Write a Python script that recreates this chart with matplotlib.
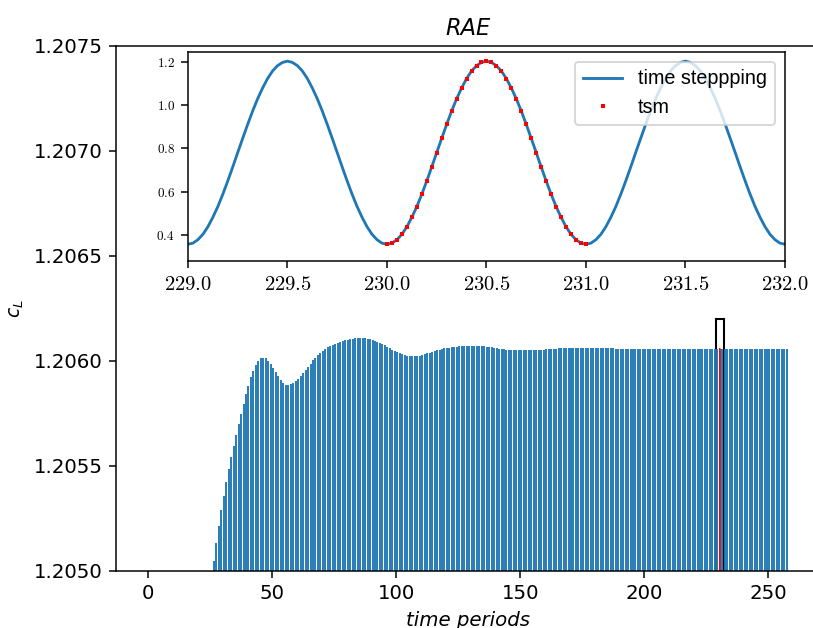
import numpy as np
import matplotlib.pyplot as plt
from matplotlib.patches import Rectangle

# peak value of c_L in each time period (peaks below 1.2050 are left out)
first_period = 26
peaks = [1.205049, 1.205135, 1.205214, 1.205290, 1.205359, 1.205424, 1.205484,
         1.205541, 1.205595, 1.205648, 1.205698, 1.205748, 1.205795, 1.205843,
         1.205883, 1.205922, 1.205954, 1.205981, 1.206000, 1.206013, 1.206016,
         1.206013, 1.206002, 1.205986, 1.205967, 1.205948, 1.205927, 1.205908,
         1.205894, 1.205886, 1.205884, 1.205889, 1.205897, 1.205906, 1.205916,
         1.205929, 1.205944]
peaks += [1.205957, 1.205973, 1.205987, 1.206003, 1.206016, 1.206029, 1.206038,
          1.206048, 1.206056, 1.206065, 1.206073, 1.206078, 1.206083, 1.206087,
          1.206092, 1.206095, 1.206098, 1.206102, 1.206103, 1.206105, 1.206108,
          1.206108, 1.206110, 1.206110, 1.206108, 1.206106, 1.206103, 1.206100,
          1.206097, 1.206092, 1.206087, 1.206081, 1.206074, 1.206068, 1.206060,
          1.206054, 1.206048, 1.206043, 1.206038, 1.206033, 1.206029, 1.206025,
          1.206024, 1.206022, 1.206022, 1.206024, 1.206025, 1.206029, 1.206033,
          1.206037, 1.206040, 1.206043, 1.206046, 1.206051, 1.206054, 1.206057,
          1.206060, 1.206062, 1.206063, 1.206065, 1.206067, 1.206068, 1.206070,
          1.206071, 1.206071, 1.206071]
peaks += ([1.206071]*5 + [1.206069]*2 + [1.206067] + [1.206065]*2 + [1.206062, 1.206060,
          1.206059, 1.206057, 1.206055] + [1.206054]*2 + [1.206052]*13 +
          [1.206054, 1.206055, 1.206057, 1.206058] + [1.206059]*2 + [1.206060] +
          [1.206062]*16 + [1.206060]*6 + [1.206059]*6)
peaks += [1.206058]*64

# one converged period (230 -> 231), sampled every 0.025
tsm_t0 = 230.0
tsm_dt = 0.025
tsm_cl = [0.355, 0.360, 0.376, 0.401, 0.436, 0.480, 0.530, 0.587, 0.649, 0.714,
          0.781, 0.847, 0.912, 0.974, 1.031, 1.081, 1.125, 1.160, 1.185, 1.200,
          1.20606, 1.200, 1.185, 1.160, 1.125, 1.081, 1.031, 0.974, 0.912, 0.847,
          0.781, 0.714, 0.649, 0.587, 0.530, 0.480, 0.436, 0.401, 0.376, 0.360,
          0.355]
inset_periods = [229, 230, 231]

main_yticks = [1.2050, 1.2055, 1.2060, 1.2065, 1.2070, 1.2075]
main_xticks = [0, 50, 100, 150, 200, 250]
inset_xticks = [229.0, 229.5, 230.0, 230.5, 231.0, 231.5, 232.0]
inset_yticks = [0.4, 0.6, 0.8, 1.0, 1.2]

t_peak = np.arange(first_period, first_period + len(peaks)) + 0.5
tsm_t = tsm_t0 + tsm_dt*np.arange(len(tsm_cl))

ts_t = []
ts_cl = []
for p in inset_periods:
	ts_t += list(p + tsm_dt*np.arange(len(tsm_cl)))
	ts_cl += tsm_cl

fig = plt.figure(figsize=(813/135, 628/135), dpi=135)
ax = fig.add_axes([0.1427, 0.0908, 0.866, 0.836])

ax.vlines(t_peak, 1.2040, peaks, color='#1f77b4', lw=1.0)
ax.plot(tsm_t, tsm_cl, color='red', lw=0.5)
ax.add_patch(Rectangle((229, 1.2049), 3, 1.2062 - 1.2049, fill=False,
                       edgecolor='black', lw=1.1))

ax.set_xlim(-12.9, 270.9)
ax.set_ylim(1.2050, 1.2075)
ax.set_yticks(main_yticks, ['%.4f' % v for v in main_yticks], fontsize=10.5)
ax.set_xticks(main_xticks, [str(v) for v in main_xticks], fontsize=10.5)
ax.set_title('RAE', fontsize=12, style='italic')
ax.set_xlabel('time periods', style='italic', fontsize=10.5)
ax.set_ylabel(r'$c_L$')

ins = fig.add_axes([0.2312, 0.5844, 0.7343, 0.3333])
ins.plot(ts_t, ts_cl, color='#1f77b4', lw=1.5, label='time steppping')
ins.plot(tsm_t, tsm_cl, 's', color='red', ms=2.0, mew=0, label='tsm')
ins.set_xlim(229, 232)
ins.set_ylim(0.277, 1.25)
ins.set_xticks(inset_xticks, [r'$%.1f$' % v for v in inset_xticks],
               math_fontfamily='cm', fontsize=11)
ins.set_yticks(inset_yticks, [r'$%.1f$' % v for v in inset_yticks],
               math_fontfamily='cm', fontsize=7)
ins.legend(loc='upper right', prop={'family': 'Liberation Sans', 'size': 10.5})

plt.savefig('out.png', dpi=135)
